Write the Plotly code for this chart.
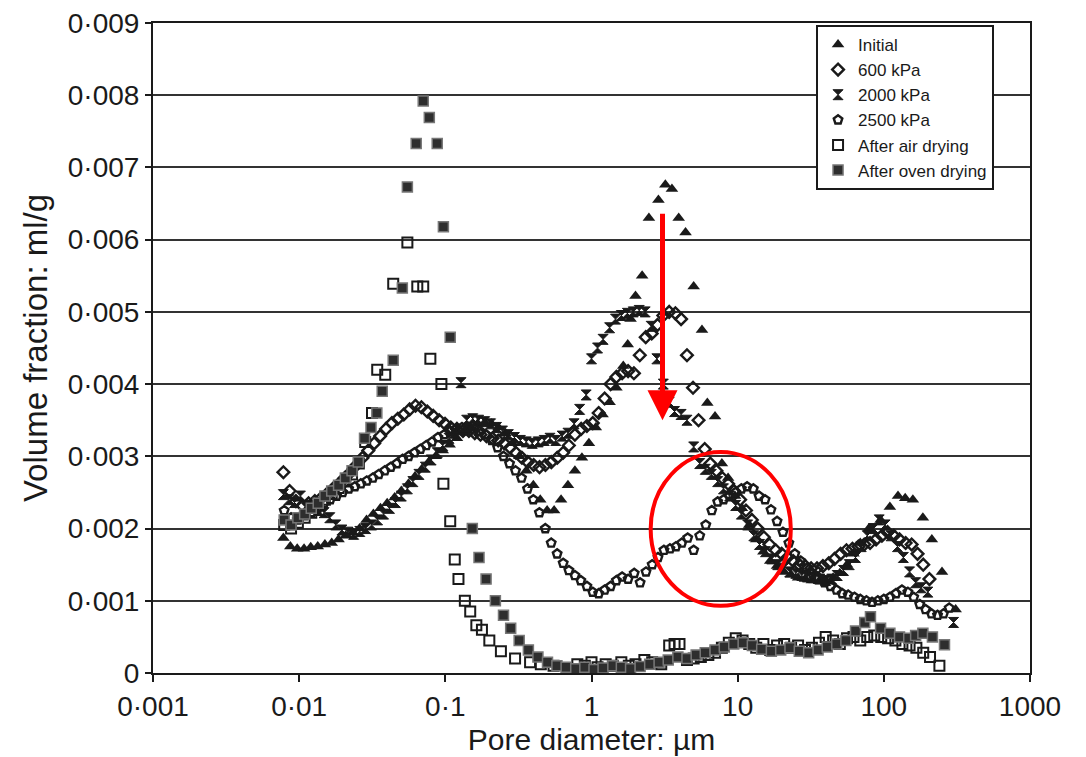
import math
import plotly.graph_objects as go

# ---------------- data (pore diameter in µm, volume fraction in ml/g) ----------------
initial_x = [0.0078, 0.0087, 0.0097, 0.0108, 0.012, 0.0134, 0.015, 0.0167, 0.0186, 0.0208,
             0.0232, 0.0259, 0.0289, 0.0322, 0.036, 0.040, 0.045, 0.050, 0.056, 0.062,
             0.069, 0.077, 0.086, 0.096, 0.107, 0.12, 0.134, 0.149, 0.166, 0.186,
             0.207, 0.231, 0.258, 0.288, 0.321, 0.358, 0.40, 0.446, 0.497, 0.555,
             0.619, 0.69, 0.77, 0.86, 0.96, 1.07, 1.19, 1.33, 1.48, 1.65,
             1.77, 1.85, 2.0, 2.22, 2.47, 2.87, 3.2, 3.55, 3.95, 4.4,
             5.0, 5.7, 6.2, 7.0, 7.8, 8.6, 9.6, 10.7, 12, 13.4,
             15, 16.7, 18.6, 20.8, 23.2, 25.9, 28.9, 32.2, 36, 40,
             45, 50, 56, 62, 69, 79, 95, 110, 125, 140,
             158, 185, 213, 250, 310]
initial_y = [0.00187, 0.00175, 0.00172, 0.00172, 0.00174, 0.00175, 0.00178, 0.00180, 0.00185, 0.00190,
             0.00195, 0.00200, 0.00212, 0.00220, 0.00228, 0.00235, 0.00243, 0.00252, 0.00262, 0.00272,
             0.00282, 0.00292, 0.00300, 0.00308, 0.00316, 0.00325, 0.00333, 0.00340, 0.00345, 0.00347,
             0.00345, 0.00340, 0.00332, 0.00318, 0.00300, 0.00280, 0.00260, 0.00240, 0.00225, 0.00225,
             0.00240, 0.00260, 0.00280, 0.00298, 0.00318, 0.00340, 0.00358, 0.00375, 0.00395, 0.00425,
             0.00455, 0.00490, 0.00522, 0.00550, 0.00630, 0.00655, 0.00676, 0.00670, 0.00630, 0.00610,
             0.00535, 0.00475, 0.00374, 0.00355, 0.00290, 0.00270, 0.00245, 0.00228, 0.00205, 0.00185,
             0.00168, 0.00155, 0.00148, 0.00140, 0.00136, 0.00132, 0.00130, 0.00128, 0.00127, 0.00128,
             0.00132, 0.00138, 0.00150, 0.00165, 0.00180, 0.00200, 0.00212, 0.00230, 0.00245, 0.00242,
             0.00240, 0.00215, 0.00185, 0.00140, 0.00088]

kpa600_x = [0.0078, 0.0086, 0.0095, 0.0105, 0.0116, 0.0128, 0.0141, 0.0155, 0.017, 0.0187,
            0.0205, 0.0225, 0.0247, 0.0271, 0.0297, 0.0326, 0.0358, 0.0393, 0.0431, 0.0473,
            0.052, 0.057, 0.0625, 0.0686, 0.0753, 0.0826, 0.0907, 0.0995, 0.109, 0.12,
            0.132, 0.145, 0.159, 0.174, 0.191, 0.21, 0.23, 0.253, 0.277, 0.304,
            0.334, 0.366, 0.402, 0.441, 0.484, 0.531, 0.583, 0.64, 0.70, 0.77,
            0.85, 0.93, 1.02, 1.12, 1.23, 1.35, 1.48, 1.62, 1.78, 1.95,
            2.14, 2.35, 2.58, 2.83, 3.1, 3.4, 3.75, 4.1, 4.5, 4.95,
            5.4, 5.95, 6.5, 7.15, 7.85, 8.6, 9.45, 10.4, 11.4, 12.5,
            13.7, 15.1, 16.5, 18.2, 20, 21.9, 24, 26.4, 29, 31.8,
            34.9, 38.3, 42, 46, 50.6, 55.5, 61, 67, 73.5, 80.5,
            88.5, 97, 106, 117, 128, 141, 155, 170, 186, 205]
kpa600_y = [0.00278, 0.00252, 0.00238, 0.00232, 0.00235, 0.00238, 0.00242, 0.00248, 0.00255, 0.00262,
            0.00270, 0.00278, 0.00288, 0.00298, 0.00308, 0.00318, 0.00328, 0.00338, 0.00346, 0.00352,
            0.00358, 0.00365, 0.00370, 0.00368, 0.00362, 0.00356, 0.00350, 0.00345, 0.00340, 0.00338,
            0.00335, 0.00335, 0.00332, 0.00330, 0.00328, 0.00325, 0.00322, 0.00318, 0.00312, 0.00305,
            0.00298, 0.00292, 0.00288, 0.00285, 0.00288, 0.00292, 0.00298, 0.00305, 0.00315, 0.00330,
            0.00338, 0.00342, 0.00346, 0.00360, 0.00380, 0.00400, 0.00410, 0.00415, 0.00418, 0.00415,
            0.00440, 0.00465, 0.00470, 0.00482, 0.00495, 0.00500, 0.00498, 0.00490, 0.00440, 0.00395,
            0.00350, 0.00310, 0.00290, 0.00280, 0.00270, 0.00262, 0.00252, 0.00240, 0.00225, 0.00212,
            0.00200, 0.00188, 0.00178, 0.00170, 0.00165, 0.00160, 0.00155, 0.00150, 0.00148, 0.00145,
            0.00145, 0.00148, 0.00152, 0.00158, 0.00165, 0.00170, 0.00172, 0.00175, 0.00178, 0.00180,
            0.00185, 0.00190, 0.00195, 0.00190, 0.00185, 0.00180, 0.00178, 0.00165, 0.00150, 0.00130]

kpa2000_x = [0.0078, 0.0085, 0.0093, 0.0102, 0.0112, 0.0123, 0.0135, 0.0148, 0.0162, 0.0178,
             0.0196, 0.0215, 0.0236, 0.026, 0.0285, 0.0313, 0.0344, 0.0378, 0.0415, 0.0456,
             0.05, 0.055, 0.06, 0.066, 0.073, 0.08, 0.088, 0.096, 0.106, 0.116,
             0.128, 0.14, 0.154, 0.169, 0.186, 0.204, 0.224, 0.246, 0.27, 0.297,
             0.326, 0.358, 0.393, 0.432, 0.475, 0.52, 0.57, 0.63, 0.69, 0.76,
             0.83, 0.92, 1.0, 1.1, 1.2, 1.33, 1.46, 1.6, 1.76, 1.93,
             2.12, 2.33, 2.56, 2.8, 3.1, 3.4, 3.7, 4.1, 4.5, 5.0,
             5.5, 6.0, 6.6, 7.3, 8.0, 8.8, 9.7, 10.6, 11.7, 12.9,
             14.1, 15.5, 17.1, 18.8, 20.6, 22.7, 25, 27.5, 30, 33,
             36.5, 40, 44, 48, 53, 58, 64, 70, 77, 85,
             93, 102, 112, 124, 136, 150, 165, 180, 200, 300]
kpa2000_y = [0.00247, 0.00240, 0.00236, 0.00245, 0.00232, 0.00228, 0.00225, 0.00222, 0.00215, 0.00205,
             0.00198, 0.00195, 0.00192, 0.00196, 0.00200, 0.00205, 0.00212, 0.00220, 0.00228, 0.00236,
             0.00245, 0.00255, 0.00265, 0.00275, 0.00285, 0.00295, 0.00305, 0.00315, 0.00325, 0.00332,
             0.00402, 0.00350, 0.00352, 0.00350, 0.00348, 0.00345, 0.00340, 0.00335, 0.00330, 0.00326,
             0.00322, 0.00320, 0.00318, 0.00320, 0.00322, 0.00325, 0.00322, 0.00328, 0.00332, 0.00345,
             0.00365, 0.00385, 0.00435, 0.00450, 0.00462, 0.00478, 0.00490, 0.00495, 0.00498, 0.00500,
             0.00502, 0.00500, 0.00480, 0.00435, 0.00400, 0.00375, 0.00362, 0.00358, 0.00350, 0.00313,
             0.00290, 0.00282, 0.00275, 0.00265, 0.00255, 0.00245, 0.00232, 0.00220, 0.00205, 0.00190,
             0.00178, 0.00168, 0.00158, 0.00150, 0.00145, 0.00140, 0.00138, 0.00135, 0.00133, 0.00132,
             0.00130, 0.00128, 0.00130, 0.00135, 0.00142, 0.00150, 0.00160, 0.00175, 0.00190, 0.00200,
             0.00212, 0.00205, 0.00190, 0.00175, 0.00160, 0.00140, 0.00125, 0.00118, 0.00112, 0.00070]

kpa2500_x = [0.0079, 0.0088, 0.0098, 0.0109, 0.0121, 0.0134, 0.0148, 0.0163, 0.018, 0.0198,
             0.0218, 0.024, 0.0264, 0.029, 0.0319, 0.035, 0.0385, 0.0423, 0.0465, 0.051,
             0.056, 0.0615, 0.0675, 0.074, 0.081, 0.089, 0.098, 0.108, 0.118, 0.13,
             0.143, 0.157, 0.172, 0.189, 0.208, 0.228, 0.25, 0.275, 0.302, 0.332,
             0.365, 0.4, 0.44, 0.483, 0.53, 0.582, 0.64, 0.70, 0.77, 0.845,
             0.93, 1.02, 1.12, 1.23, 1.35, 1.48, 1.62, 1.78, 1.96, 2.15,
             2.36, 2.6, 2.85, 3.13, 3.44, 3.78, 4.15, 4.55, 5.0, 5.5,
             6.05, 6.65, 7.3, 8.0, 8.8, 9.65, 10.6, 11.6, 12.8, 14,
             15.4, 16.9, 18.6, 20.4, 22.4, 24.6, 27, 29.7, 32.6, 35.8,
             39.3, 43.2, 47.5, 52, 57, 63, 69, 76, 83, 91,
             100, 110, 121, 133, 146, 160, 176, 193, 212, 233, 256, 280]
kpa2500_y = [0.00225, 0.00215, 0.00212, 0.00218, 0.00222, 0.00228, 0.00235, 0.00240, 0.00245, 0.00250,
             0.00255, 0.00258, 0.00262, 0.00266, 0.00270, 0.00275, 0.00280, 0.00285, 0.00290, 0.00296,
             0.00300, 0.00305, 0.00310, 0.00315, 0.00320, 0.00326, 0.00330, 0.00335, 0.00338, 0.00340,
             0.00340, 0.00338, 0.00335, 0.00330, 0.00322, 0.00312, 0.00300, 0.00290, 0.00280, 0.00270,
             0.00255, 0.00240, 0.00222, 0.00200, 0.00180, 0.00165, 0.00152, 0.00142, 0.00135, 0.00128,
             0.00120, 0.00112, 0.00110, 0.00115, 0.00120, 0.00128, 0.00133, 0.00130, 0.00138, 0.00125,
             0.00140, 0.00150, 0.00160, 0.00170, 0.00172, 0.00175, 0.00180, 0.00187, 0.00170, 0.00190,
             0.00205, 0.00225, 0.00237, 0.00240, 0.00245, 0.00250, 0.00255, 0.00258, 0.00255, 0.00245,
             0.00240, 0.00226, 0.00210, 0.00195, 0.00180, 0.00165, 0.00155, 0.00145, 0.00138, 0.00132,
             0.00125, 0.00120, 0.00115, 0.00110, 0.00108, 0.00105, 0.00102, 0.00100, 0.00098, 0.00100,
             0.00102, 0.00105, 0.00110, 0.00115, 0.00112, 0.00105, 0.00095, 0.00088, 0.00082, 0.00080,
             0.00082, 0.00090]

air_x = [0.0079, 0.0088, 0.0098, 0.0109, 0.0121, 0.0135, 0.015, 0.0167, 0.0186, 0.0207,
         0.023, 0.0256, 0.0283, 0.0315, 0.0342, 0.0388, 0.044, 0.055, 0.0643, 0.0706,
         0.079, 0.094, 0.097, 0.108, 0.116, 0.123, 0.136, 0.148, 0.163, 0.178,
         0.2, 0.24, 0.3, 0.38, 0.45, 0.55, 0.69, 0.8, 0.9, 1.0,
         1.1, 1.25, 1.4, 1.6, 1.8, 2.0, 2.3, 2.6, 3.0, 3.4,
         3.7, 4.0, 4.5, 5.0, 5.6, 6.3, 7.0, 7.8, 8.7, 9.7,
         10.8, 12, 13.4, 15, 16.7, 18.6, 20.8, 23.2, 25.9, 28.9,
         32.2, 36, 40, 45, 50, 56, 62, 69, 77, 86,
         96, 107, 120, 134, 150, 167, 186, 207, 240]
air_y = [0.00205, 0.00200, 0.00208, 0.00215, 0.00222, 0.00232, 0.00240, 0.00248, 0.00256, 0.00265,
         0.00275, 0.00290, 0.00320, 0.00360, 0.00420, 0.00413, 0.00539, 0.00596, 0.00535, 0.00535,
         0.00435, 0.00400, 0.00262, 0.00210, 0.00157, 0.00130, 0.00100, 0.00085, 0.00066, 0.00060,
         0.00045, 0.00030, 0.00020, 0.00015, 0.00012, 0.00010, 0.00000, 0.00012, 0.00010, 0.00015,
         0.00008, 0.00012, 0.00010, 0.00015, 0.00010, 0.00012, 0.00018, 0.00015, 0.00012, 0.00038,
         0.00040, 0.00040, 0.00018, 0.00020, 0.00022, 0.00025, 0.00028, 0.00035, 0.00042, 0.00048,
         0.00045, 0.00040, 0.00035, 0.00040, 0.00032, 0.00038, 0.00040, 0.00035, 0.00038, 0.00032,
         0.00035, 0.00042, 0.00050, 0.00045, 0.00040, 0.00048, 0.00050, 0.00045, 0.00050, 0.00052,
         0.00050, 0.00048, 0.00045, 0.00040, 0.00038, 0.00035, 0.00028, 0.00022, 0.00010]

oven_x = [0.0079, 0.0088, 0.0098, 0.0109, 0.0121, 0.0135, 0.015, 0.0167, 0.0186, 0.0207,
          0.023, 0.0254, 0.028, 0.031, 0.034, 0.037, 0.044, 0.0508, 0.055, 0.0632,
          0.0706, 0.0777, 0.088, 0.097, 0.108, 0.153, 0.17, 0.19, 0.22, 0.25,
          0.28, 0.32, 0.37, 0.43, 0.5, 0.58, 0.67, 0.78, 0.9, 1.04,
          1.2, 1.4, 1.6, 1.85, 2.15, 2.5, 2.9, 3.35, 3.9, 4.5,
          5.2, 6.0, 7.0, 8.1, 9.4, 10.9, 12.6, 14.6, 17, 19.7,
          22.8, 26.4, 30.6, 35.5, 41, 47.6, 55, 64, 74, 81,
          95, 110, 128, 148, 165, 185, 215, 260]
oven_y = [0.00212, 0.00205, 0.00215, 0.00220, 0.00228, 0.00235, 0.00245, 0.00252, 0.00260, 0.00270,
          0.00280, 0.00292, 0.00325, 0.00340, 0.00360, 0.00390, 0.00433, 0.00533, 0.00673, 0.00733,
          0.00792, 0.00769, 0.00733, 0.00618, 0.00465, 0.00200, 0.00160, 0.00130, 0.00100, 0.00080,
          0.00062, 0.00045, 0.00032, 0.00022, 0.00015, 0.00010, 0.00008, 0.00006, 0.00008, 0.00005,
          0.00007, 0.00010, 0.00008, 0.00006, 0.00009, 0.00012, 0.00015, 0.00018, 0.00022, 0.00020,
          0.00025, 0.00028, 0.00032, 0.00036, 0.00040, 0.00042, 0.00038, 0.00033, 0.00030, 0.00032,
          0.00035, 0.00030, 0.00028, 0.00032, 0.00036, 0.00040, 0.00045, 0.00058, 0.00070, 0.00078,
          0.00062, 0.00055, 0.00050, 0.00048, 0.00052, 0.00055, 0.00050, 0.00039]

x_tickvals = [0.001, 0.01, 0.1, 1, 10, 100, 1000]
x_ticktext = ["0·001", "0·01", "0·1", "1", "10", "100", "1000"]
y_tickvals = [0, 0.001, 0.002, 0.003, 0.004, 0.005, 0.006, 0.007, 0.008, 0.009]
y_ticktext = ["0", "0·001", "0·002", "0·003", "0·004", "0·005", "0·006", "0·007", "0·008", "0·009"]

# annotation positions (arrow and highlight ellipse), data units
arrow_x = 3.06
arrow_y_start = 0.00638
arrow_y_end = 0.00350
ellipse_x = [2.54, 23.1]
ellipse_y = [0.00093, 0.00306]

# ---------------- figure ----------------
FONT = "Liberation Sans, Arial, sans-serif"
INK = "#1a1a1a"

series = [
    ("Initial", initial_x, initial_y, dict(symbol="triangle-up", size=11, color=INK)),
    ("600 kPa", kpa600_x, kpa600_y, dict(symbol="diamond-open", size=9, color=INK, line=dict(width=2.4, color=INK))),
    ("2000 kPa", kpa2000_x, kpa2000_y, dict(symbol="hourglass", size=10, color=INK, line=dict(width=1, color=INK))),
    ("2500 kPa", kpa2500_x, kpa2500_y, dict(symbol="pentagon-open", size=9, color=INK, line=dict(width=2.4, color=INK))),
    ("After air drying", air_x, air_y, dict(symbol="square-open", size=10, color=INK, line=dict(width=2, color=INK))),
    ("After oven drying", oven_x, oven_y, dict(symbol="square", size=10, color="#2e2e2e", line=dict(width=1.5, color="#777777"))),
]

fig = go.Figure()
for name, xs, ys, mk in series:
    fig.add_trace(go.Scatter(x=xs, y=ys, mode="markers", name=name, marker=mk))

fig.update_layout(
    width=1086, height=757,
    margin=dict(l=153, r=56, t=23, b=84, autoexpand=False),
    paper_bgcolor="white", plot_bgcolor="white",
    font=dict(family=FONT, color=INK, size=28),
    showlegend=True,
    legend=dict(
        x=0.959, y=0.997, xanchor="right", yanchor="top",
        bgcolor="white", bordercolor=INK, borderwidth=2,
        font=dict(family=FONT, size=17, color=INK),
        itemwidth=30, tracegroupgap=0,
    ),
)

fig.update_xaxes(
    type="log", range=[-3, 3], automargin=False,
    tickvals=x_tickvals, ticktext=x_ticktext,
    ticks="outside", ticklen=7, tickwidth=2, tickcolor=INK,
    showline=True, linecolor=INK, linewidth=2, mirror=True,
    showgrid=False, zeroline=False,
    tickfont=dict(family=FONT, size=28, color=INK),
    title=dict(text="Pore diameter: µm", font=dict(family=FONT, size=30, color=INK), standoff=8),
)
fig.update_yaxes(
    range=[0, 0.009], automargin=False,
    tickvals=y_tickvals, ticktext=y_ticktext,
    ticks="outside", ticklen=6, tickwidth=2, tickcolor=INK,
    showline=True, linecolor=INK, linewidth=2, mirror=True,
    showgrid=True, gridcolor="#333333", gridwidth=2,
    zeroline=False,
    tickfont=dict(family=FONT, size=28, color=INK),
    title=dict(text="Volume fraction: ml/g", font=dict(family=FONT, size=33, color=INK), standoff=10),
)

fig.add_annotation(
    x=math.log10(arrow_x), y=arrow_y_end,
    ax=math.log10(arrow_x), ay=arrow_y_start,
    xref="x", yref="y", axref="x", ayref="y",
    showarrow=True, arrowhead=2, arrowsize=1.2, arrowwidth=5, arrowcolor="#ff0000",
    text="",
)
fig.add_shape(
    type="circle", xref="x", yref="y",
    x0=ellipse_x[0], x1=ellipse_x[1], y0=ellipse_y[0], y1=ellipse_y[1],
    line=dict(color="#ff0000", width=4),
)

fig.write_html("out.html")
